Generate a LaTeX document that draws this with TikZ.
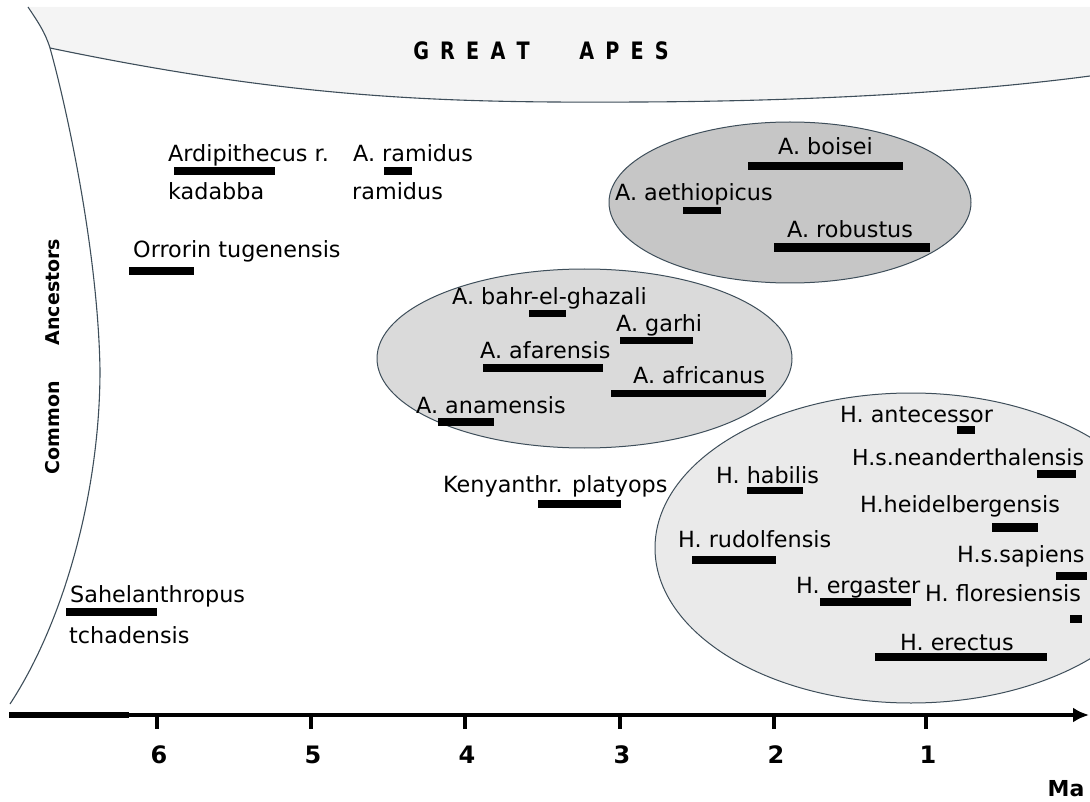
\documentclass[tikz,border=0pt]{standalone}
\usepackage{fontspec}
\setmainfont{DejaVu Sans}
\usetikzlibrary{arrows.meta}
\definecolor{edgecol}{RGB}{62,78,90}
\definecolor{apesfill}{RGB}{244,244,244}
\definecolor{robustfill}{RGB}{198,198,198}
\definecolor{australfill}{RGB}{218,218,218}
\definecolor{homofill}{RGB}{234,234,234}
\begin{document}
\begin{tikzpicture}[x=1pt,y=-1pt,
  lbl/.style={anchor=base west, inner sep=0pt, font=\fontsize{22.3}{26}\selectfont},
  bar/.style={fill=black},
  grp/.style={draw=edgecol, line width=1pt},
  tickmark/.style={line width=4pt},
  num/.style={font=\bfseries\fontsize{24}{28}\selectfont, inner sep=0pt},
  side/.style={font=\bfseries\fontsize{19}{22}\selectfont, rotate=90, inner sep=0pt},
  border/.style={draw=edgecol, line width=1.1pt}]
\useasboundingbox (0,0) rectangle (1090,802);
\begin{scope}
\clip (0,0) rectangle (1090,802);
% great apes band
\fill[apesfill] (28,7) .. controls (38,22) and (45,32) .. (50,48)
  .. controls (300,100) and (450,103) .. (640,102)
  .. controls (850,101) and (1000,88) .. (1090,76) -- (1090,7) -- cycle;
\draw[border] (50,48) .. controls (300,100) and (450,103) .. (640,102)
  .. controls (850,101) and (1000,88) .. (1090,76);
% boundary of the common ancestors zone
\draw[border] (28,7) .. controls (38,22) and (45,32) .. (50,48)
  .. controls (66,105) and (98,250) .. (100,370)
  .. controls (100,490) and (65,620) .. (10,704);
% species groups
\path[grp, fill=robustfill] (790,202.5) ellipse [x radius=181, y radius=80.5];
\path[grp, fill=australfill] (584.5,358.5) ellipse [x radius=207.5, y radius=89.5];
\path[grp, fill=homofill] (911,548) ellipse [x radius=256, y radius=155];
\end{scope}

% title of the top band
\node[font=\bfseries\fontsize{24}{28}\selectfont, anchor=base, inner sep=0pt, xscale=0.8] (apes) at (541,60)
  {G\hspace{14pt}R\hspace{14pt}E\hspace{14pt}A\hspace{14pt}T\hspace{62pt}A\hspace{14pt}P\hspace{14pt}E\hspace{14pt}S};

% side labels
\node[side] (anc) at (53,292) {Ancestors};
\node[side] (com) at (53,428) {Common};

% species labels
\node[lbl] (ardi) at (168,162) {Ardipithecus r.};
\node[lbl] (kad) at (168,200) {kadabba};
\node[lbl] (aram) at (353,162) {A. ramidus};
\node[lbl] (ram) at (352,200) {ramidus};
\node[lbl] (orr) at (133,258) {Orrorin tugenensis};
\node[lbl] (bois) at (778,155) {A. boisei};
\node[lbl] (aeth) at (615,201) {A. aethiopicus};
\node[lbl] (robu) at (787,238) {A. robustus};
\node[lbl] (bahr) at (452,305) {A. bahr-el-ghazali};
\node[lbl] (garh) at (616,332) {A. garhi};
\node[lbl] (afar) at (480,359) {A. afarensis};
\node[lbl] (afri) at (633,383) {A. africanus};
\node[lbl] (anam) at (416,413) {A. anamensis};
\node[lbl] (keny) at (443,492) {Kenyanthr. platyops};
\node[lbl] (ante) at (840,422) {H. antecessor};
\node[lbl, font=\fontsize{22}{26}\selectfont] (nean) at (852,465) {H.s.neanderthalensis};
\node[lbl] (habi) at (716,483) {H. habilis};
\node[lbl] (heid) at (860,512) {H.heidelbergensis};
\node[lbl] (rudo) at (678,547) {H. rudolfensis};
\node[lbl] (sapi) at (957,562) {H.s.sapiens};
\node[lbl] (erga) at (796,593) {H. ergaster};
\node[lbl] (flor) at (925,601) {H. floresiensis};
\node[lbl] (erec) at (900,650) {H. erectus};
\node[lbl] (sahe) at (70,602) {Sahelanthropus};
\node[lbl] (tcha) at (69,643) {tchadensis};

% time ranges
\fill[bar] (174,167) rectangle (275,175);
\fill[bar] (384,167) rectangle (412,175);
\fill[bar] (129,267) rectangle (194,275);
\fill[bar] (748,162) rectangle (903,170);
\fill[bar] (683,207) rectangle (721,214);
\fill[bar] (774,243) rectangle (930,252);
\fill[bar] (529,310) rectangle (566,317);
\fill[bar] (620,337) rectangle (693,344);
\fill[bar] (483,364) rectangle (603,372);
\fill[bar] (611,390) rectangle (766,397);
\fill[bar] (438,418) rectangle (494,426);
\fill[bar] (538,500) rectangle (621,508);
\fill[bar] (957,426) rectangle (975,434);
\fill[bar] (1037,470) rectangle (1076,478);
\fill[bar] (747,487) rectangle (803,494);
\fill[bar] (992,523) rectangle (1038,532);
\fill[bar] (692,556) rectangle (776,564);
\fill[bar] (1056,572) rectangle (1087,580);
\fill[bar] (820,598) rectangle (911,606);
\fill[bar] (1070,615) rectangle (1082,623);
\fill[bar] (875,653) rectangle (1047,661);
\fill[bar] (66,608) rectangle (157,616);

% time axis
\coordinate (axL) at (9,715);
\coordinate (axM) at (129,715);
\coordinate (axR) at (1089,715);
\draw[line width=6pt] (axL) -- (axM);
\draw[line width=3.5pt, -{Latex[length=16pt,width=15pt]}] ([xshift=-3pt]axM) -- (axR);
\foreach \m/\x in {6/157,5/311,4/465,3/620,2/774,1/926}{
  \draw[tickmark] (\x,716) -- (\x,729);
  \node[num] (t\m) at (\x+2,755) {\m};
}
\node[font=\bfseries\fontsize{22}{26}\selectfont, inner sep=0pt, anchor=base] (ma) at (1066,796) {Ma};
\end{tikzpicture}
\end{document}
